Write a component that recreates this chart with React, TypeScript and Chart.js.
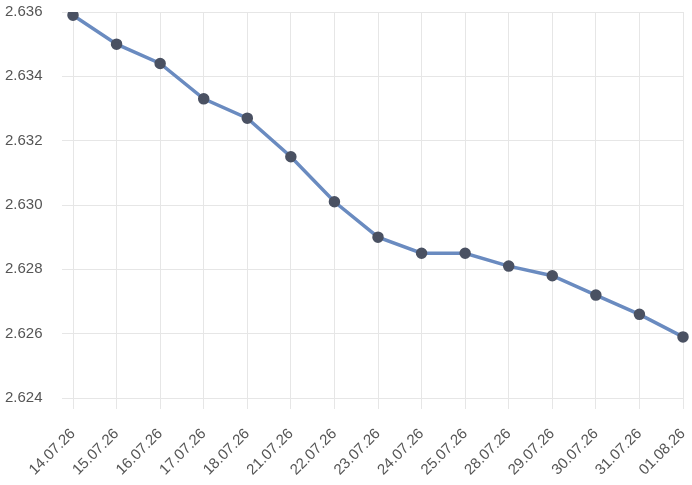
import { useEffect, useRef } from 'react';
import { Chart, registerables } from 'chart.js';

Chart.register(...registerables);

const labels = [
  '14.07.26', '15.07.26', '16.07.26', '17.07.26', '18.07.26',
  '21.07.26', '22.07.26', '23.07.26', '24.07.26', '25.07.26',
  '28.07.26', '29.07.26', '30.07.26', '31.07.26', '01.08.26',
];

const rates = [
  2.6359, 2.635, 2.6344, 2.6333, 2.6327,
  2.6315, 2.6301, 2.629, 2.6285, 2.6285,
  2.6281, 2.6278, 2.6272, 2.6266, 2.6259,
];

const yMin = 2.624;
const yMax = 2.636;
const yStep = 0.002;

const tickFont = { family: 'Liberation Sans', size: 15 };

export default function App() {
  const canvasRef = useRef<HTMLCanvasElement>(null);

  useEffect(() => {
    document.body.style.margin = '0';
    if (!canvasRef.current) return;

    const chart = new Chart(canvasRef.current, {
      type: 'line',
      data: {
        labels,
        datasets: [
          {
            data: rates,
            borderColor: '#6a8bc0',
            borderWidth: 3.5,
            pointBackgroundColor: '#4a5162',
            pointBorderColor: '#4a5162',
            pointRadius: 4,
            tension: 0,
          },
        ],
      },
      options: {
        responsive: true,
        maintainAspectRatio: false,
        animation: false,
        layout: { padding: { top: 0, right: 0, left: 5, bottom: 0 } },
        plugins: { legend: { display: false }, tooltip: { enabled: false } },
        scales: {
          x: {
            grid: { color: '#e6e6e6', tickLength: 11 },
            border: { color: '#e6e6e6' },
            ticks: {
              color: '#555',
              font: tickFont,
              maxRotation: 45,
              minRotation: 45,
              autoSkip: false,
              padding: 16,
            },
            // keep the plot bottom and right edge where the original has them
            afterFit: (scale) => {
              scale.height = 87;
              scale.paddingRight = 9;
            },
          },
          y: {
            min: yMin,
            max: yMax,
            grid: { color: '#e6e6e6', tickLength: 11 },
            border: { display: false },
            ticks: {
              stepSize: yStep,
              color: '#555',
              padding: 3,
              crossAlign: 'far',
              font: tickFont,
              callback: (v) => Number(v).toFixed(3),
            },
            afterFit: (scale) => {
              scale.width = 68;
            },
          },
        },
      },
    });

    return () => chart.destroy();
  }, []);

  return (
    <div style={{ width: 692, height: 485, position: 'relative' }}>
      <canvas ref={canvasRef} />
    </div>
  );
}
